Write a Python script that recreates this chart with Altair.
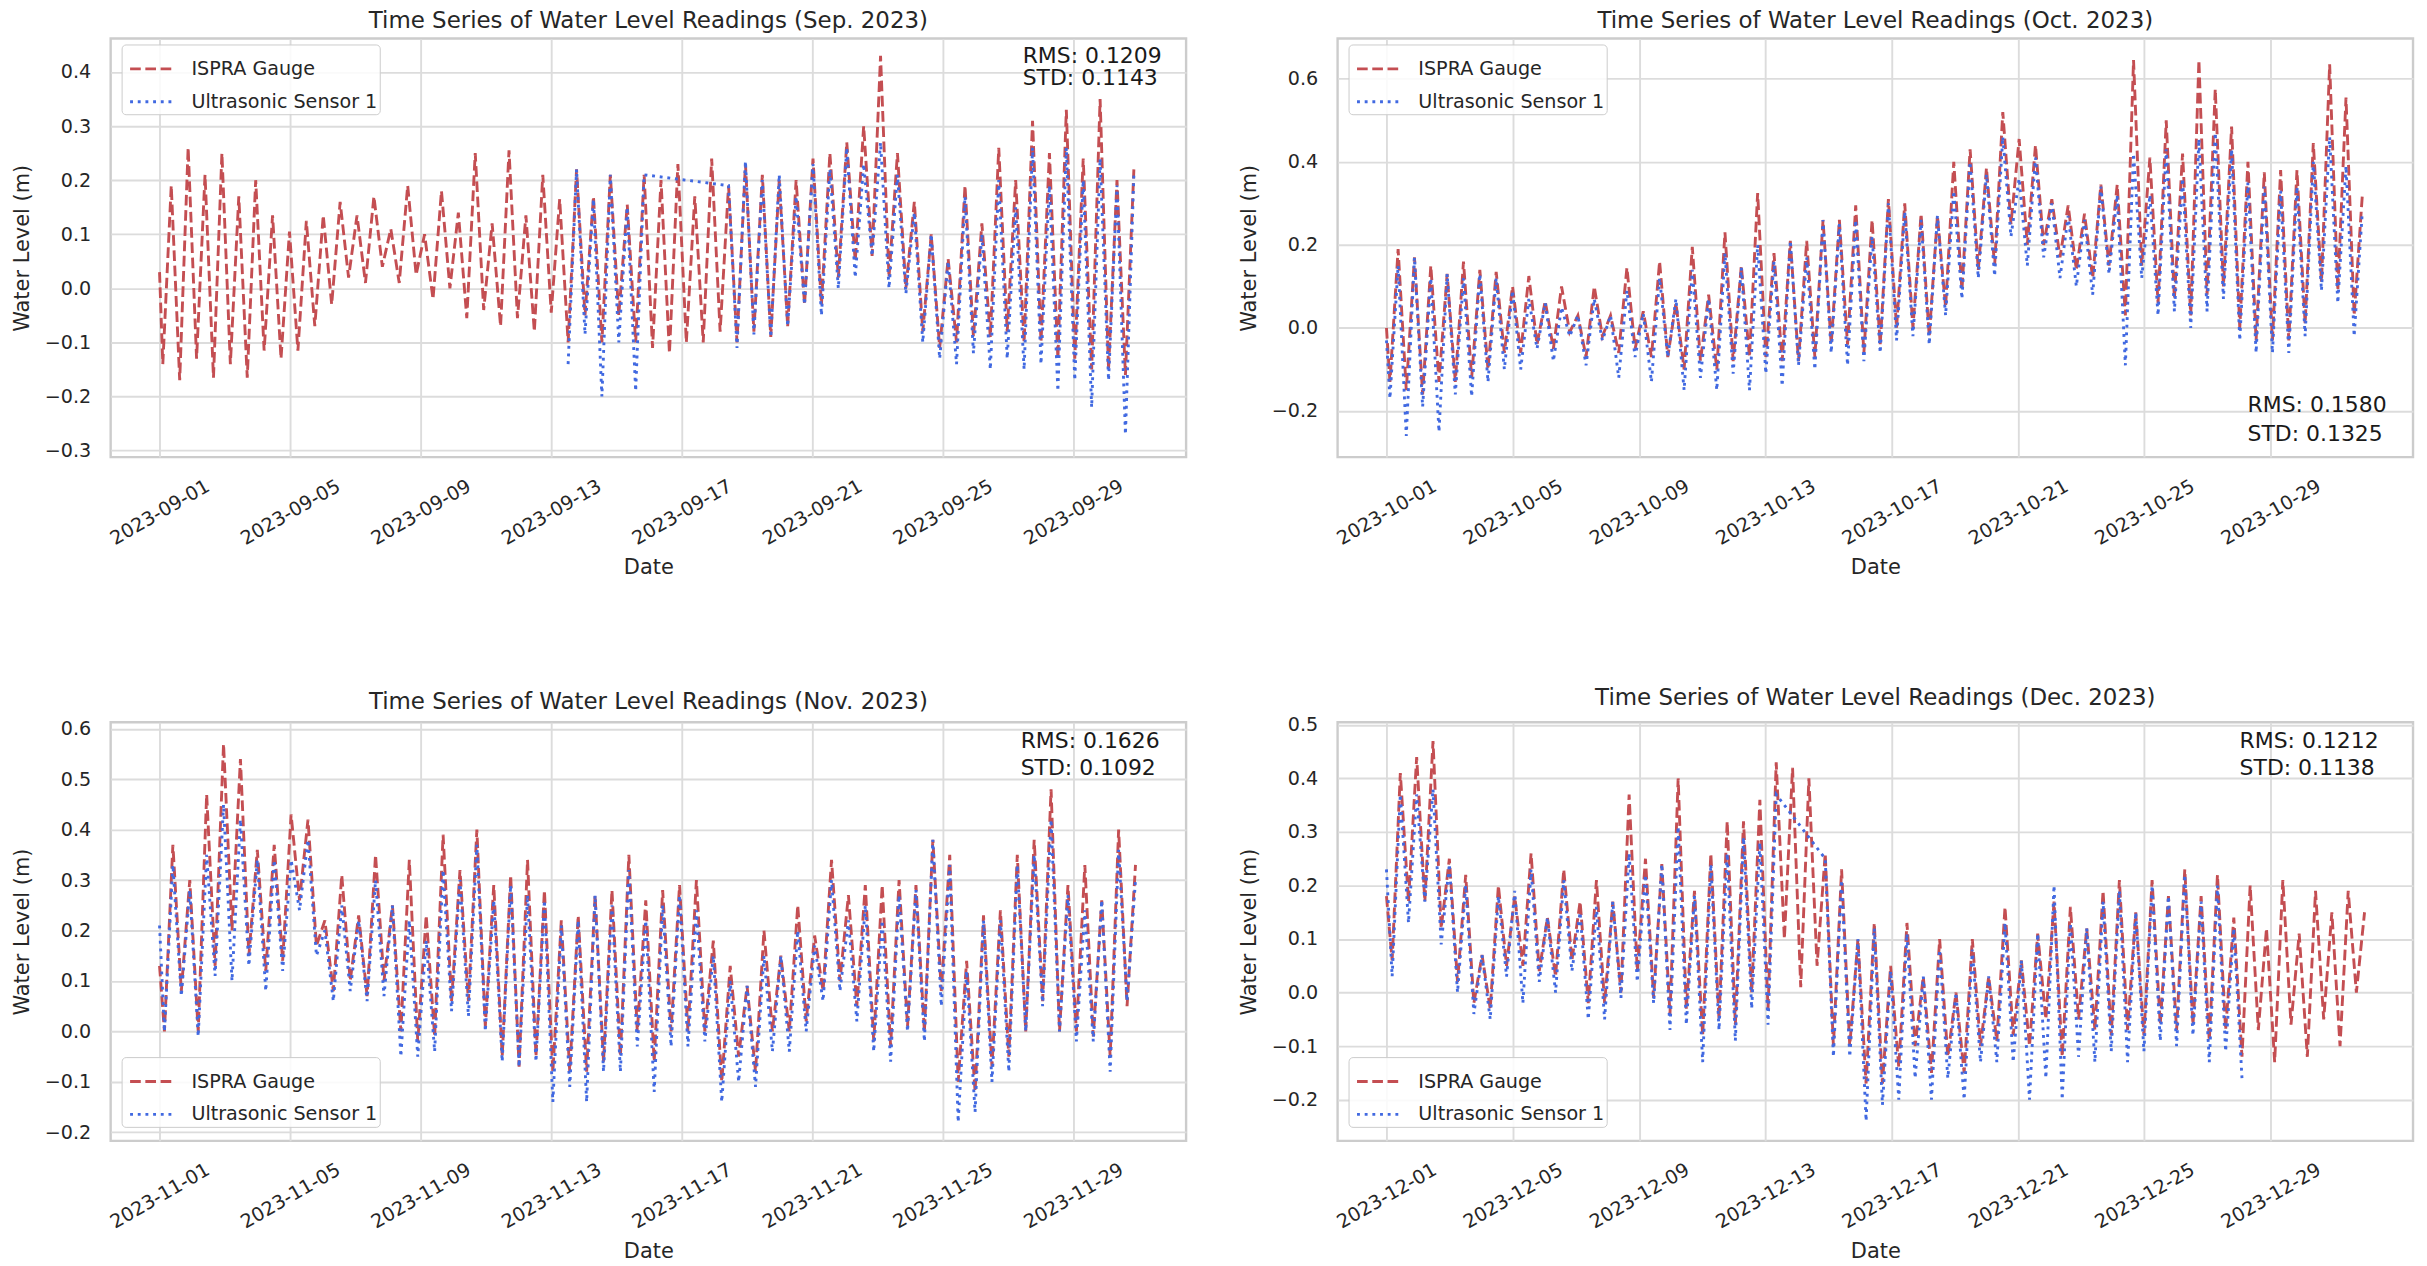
import altair as alt
import pandas as pd
from datetime import datetime, timedelta

FONT = "DejaVu Sans"
SERIES = ["ISPRA Gauge", "Ultrasonic Sensor 1"]
COLORS = ["#C44E52", "#4169E1"]
DASHES = [[10.7, 4.6], [2.9, 4.8]]

MONTH_TITLES = ["Sep. 2023", "Oct. 2023", "Nov. 2023", "Dec. 2023"]
MONTH_STARTS = [(2023, 9), (2023, 10), (2023, 11), (2023, 12)]
MONTH_DAYS = [30, 31, 30, 31]
FIRST_EXTREME_HOURS = [2.4, 2.64, 3.6, 4.32]
STEP_HOURS = 6.21
GAUGE_AT_START = [0.03, 0.00, 0.13, 0.18]
SENSOR_AT_START = [None, -0.03, 0.21, 0.23]

# successive low / high water readings (m)
SEP_GAUGE = [
    -0.14, 0.19, -0.17, 0.26, -0.13, 0.21, -0.165, 0.25, -0.14, 0.17,
    -0.165, 0.20, -0.115, 0.135, -0.13, 0.105, -0.115, 0.125, -0.07, 0.135,
    -0.03, 0.16, 0.02, 0.135, 0.01, 0.17, 0.04, 0.11, 0.01, 0.19,
    0.025, 0.10, -0.02, 0.18, 0.00, 0.14, -0.055, 0.25, -0.04, 0.12,
    -0.07, 0.255, -0.055, 0.135, -0.08, 0.21, -0.045, 0.165, -0.10, 0.22,
    -0.05, 0.17, -0.10, 0.21, -0.05, 0.155, -0.10, 0.21, -0.11, 0.20,
    -0.12, 0.23, -0.10, 0.17, -0.10, 0.24, -0.08, 0.19, -0.10, 0.23,
    -0.08, 0.21, -0.09, 0.20, -0.07, 0.20, -0.03, 0.24, -0.03, 0.25,
    0.02, 0.27, 0.05, 0.30, 0.06, 0.43, 0.02, 0.25, 0.00, 0.16,
    -0.08, 0.10, -0.11, 0.055, -0.10, 0.19, -0.09, 0.12, -0.09, 0.26,
    -0.08, 0.20, -0.10, 0.31, -0.10, 0.25, -0.13, 0.33, -0.13, 0.24,
    -0.15, 0.35, -0.15, 0.20, -0.16, 0.22,
]
SEP_SENSOR = [None] * 48 + [
    -0.14, 0.22, -0.085, 0.165, -0.20, 0.21, -0.10, 0.15, -0.19, 0.21,
] + [None] * 9 + [
    0.19, -0.11, 0.235, -0.085, 0.20, -0.09, 0.21, -0.07, 0.17, -0.03,
    0.23, -0.05, 0.22, 0.00, 0.26, 0.02, 0.23, 0.06, 0.27, 0.00,
    0.21, -0.01, 0.14, -0.10, 0.10, -0.13, 0.05, -0.14, 0.17, -0.12,
    0.10, -0.15, 0.20, -0.13, 0.15, -0.15, 0.26, -0.14, 0.19, -0.19,
    0.26, -0.17, 0.20, -0.22, 0.24, -0.17, 0.19, -0.27, 0.21,
]
OCT_GAUGE = [
    -0.13, 0.19, -0.15, 0.17, -0.16, 0.15, -0.13, 0.13, -0.13, 0.16,
    -0.12, 0.14, -0.10, 0.135, -0.06, 0.10, -0.06, 0.125, -0.04, 0.065,
    -0.05, 0.10, -0.01, 0.03, -0.07, 0.10, -0.02, 0.03, -0.06, 0.145,
    -0.05, 0.04, -0.07, 0.16, -0.07, 0.06, -0.10, 0.195, -0.08, 0.08,
    -0.10, 0.23, -0.08, 0.15, -0.07, 0.325, -0.07, 0.18, -0.08, 0.21,
    -0.08, 0.21, -0.07, 0.26, -0.04, 0.26, -0.04, 0.295, -0.06, 0.26,
    -0.04, 0.31, 0.00, 0.30, 0.00, 0.275, -0.02, 0.27, 0.05, 0.40,
    0.09, 0.43, 0.14, 0.385, 0.15, 0.52, 0.25, 0.455, 0.20, 0.44,
    0.20, 0.31, 0.17, 0.295, 0.14, 0.275, 0.12, 0.345, 0.15, 0.345,
    0.03, 0.645, 0.15, 0.41, 0.06, 0.50, 0.07, 0.42, 0.03, 0.645,
    0.08, 0.575, 0.10, 0.485, 0.00, 0.40, -0.03, 0.375, -0.03, 0.38,
    -0.03, 0.38, 0.01, 0.445, 0.11, 0.635, 0.09, 0.555, 0.03, 0.32,
]
OCT_SENSOR = [
    -0.17, 0.15, -0.26, 0.17, -0.19, 0.12, -0.25, 0.13, -0.16, 0.12,
    -0.165, 0.13, -0.13, 0.12, -0.10, 0.09, -0.10, 0.07, -0.05, 0.06,
    -0.08, 0.05, -0.02, 0.03, -0.09, 0.07, -0.03, 0.03, -0.12, 0.09,
    -0.07, 0.035, -0.13, 0.12, -0.07, 0.07, -0.15, 0.14, -0.12, 0.07,
    -0.15, 0.18, -0.11, 0.145, -0.15, 0.20, -0.11, 0.16, -0.14, 0.21,
    -0.09, 0.17, -0.10, 0.26, -0.06, 0.25, -0.09, 0.26, -0.08, 0.22,
    -0.06, 0.30, -0.03, 0.28, -0.02, 0.26, -0.04, 0.27, 0.03, 0.33,
    0.07, 0.40, 0.12, 0.37, 0.125, 0.46, 0.22, 0.36, 0.15, 0.41,
    0.17, 0.30, 0.12, 0.27, 0.10, 0.26, 0.08, 0.34, 0.13, 0.32,
    -0.09, 0.42, 0.12, 0.32, 0.03, 0.43, 0.04, 0.36, 0.00, 0.455,
    0.04, 0.47, 0.07, 0.43, -0.03, 0.35, -0.06, 0.34, -0.06, 0.33,
    -0.06, 0.34, -0.02, 0.40, 0.09, 0.46, 0.06, 0.39, -0.02, 0.28,
]
NOV_GAUGE = [
    0.00, 0.37, 0.08, 0.30, 0.00, 0.47, 0.13, 0.57, 0.20, 0.54,
    0.15, 0.36, 0.12, 0.37, 0.14, 0.43, 0.26, 0.42, 0.17, 0.22,
    0.08, 0.31, 0.10, 0.23, 0.07, 0.35, 0.10, 0.25, 0.00, 0.34,
    -0.02, 0.23, -0.01, 0.39, 0.06, 0.32, 0.06, 0.40, 0.01, 0.29,
    -0.05, 0.31, -0.07, 0.34, -0.05, 0.28, -0.08, 0.22, -0.08, 0.23,
    -0.08, 0.27, -0.06, 0.28, -0.05, 0.35, 0.00, 0.26, -0.06, 0.28,
    0.00, 0.29, 0.00, 0.30, 0.00, 0.18, -0.10, 0.13, -0.05, 0.09,
    -0.08, 0.20, 0.00, 0.15, 0.00, 0.25, 0.02, 0.19, 0.08, 0.34,
    0.10, 0.27, 0.05, 0.29, -0.02, 0.29, -0.03, 0.30, 0.01, 0.29,
    0.00, 0.38, 0.08, 0.35, -0.10, 0.14, -0.12, 0.23, -0.07, 0.24,
    -0.05, 0.35, 0.00, 0.38, 0.06, 0.48, 0.00, 0.29, 0.00, 0.33,
    -0.01, 0.26, -0.05, 0.40, 0.05, 0.33,
]
NOV_SENSOR = [
    0.00, 0.33, 0.07, 0.28, -0.01, 0.35, 0.11, 0.45, 0.10, 0.42,
    0.13, 0.34, 0.08, 0.34, 0.12, 0.34, 0.24, 0.38, 0.15, 0.20,
    0.06, 0.25, 0.08, 0.22, 0.06, 0.30, 0.07, 0.25, -0.05, 0.22,
    -0.05, 0.18, -0.04, 0.32, 0.04, 0.30, 0.03, 0.37, 0.00, 0.26,
    -0.06, 0.29, -0.07, 0.27, -0.06, 0.26, -0.14, 0.21, -0.11, 0.22,
    -0.14, 0.27, -0.08, 0.25, -0.08, 0.32, -0.03, 0.22, -0.12, 0.25,
    -0.03, 0.27, -0.03, 0.24, -0.02, 0.15, -0.14, 0.10, -0.10, 0.09,
    -0.11, 0.15, -0.04, 0.15, -0.04, 0.20, 0.00, 0.17, 0.06, 0.30,
    0.08, 0.22, 0.02, 0.25, -0.04, 0.22, -0.06, 0.27, 0.00, 0.28,
    -0.02, 0.38, 0.05, 0.33, -0.18, 0.12, -0.16, 0.22, -0.10, 0.22,
    -0.08, 0.33, 0.00, 0.35, 0.05, 0.42, 0.00, 0.27, -0.02, 0.24,
    -0.02, 0.26, -0.08, 0.36, 0.06, 0.30,
]
DEC_GAUGE = [
    0.06, 0.41, 0.17, 0.44, 0.17, 0.47, 0.12, 0.25, 0.02, 0.22,
    -0.02, 0.07, -0.03, 0.20, 0.05, 0.18, 0.05, 0.26, 0.04, 0.14,
    0.03, 0.23, 0.06, 0.17, -0.02, 0.21, -0.02, 0.17, 0.00, 0.37,
    0.04, 0.25, -0.01, 0.24, -0.04, 0.40, -0.03, 0.19, -0.08, 0.26,
    -0.05, 0.32, -0.06, 0.32, 0.00, 0.36, -0.03, 0.43, 0.10, 0.42,
    0.01, 0.40, 0.05, 0.26, -0.10, 0.23, -0.10, 0.10, -0.17, 0.13,
    -0.17, 0.05, -0.14, 0.13, -0.10, 0.03, -0.15, 0.10, -0.12, 0.00,
    -0.15, 0.10, -0.10, 0.03, -0.09, 0.16, -0.08, 0.06, -0.10, 0.11,
    -0.05, 0.17, -0.12, 0.16, -0.05, 0.12, -0.07, 0.19, -0.08, 0.21,
    -0.07, 0.15, -0.08, 0.21, -0.06, 0.18, -0.07, 0.23, -0.06, 0.18,
    -0.09, 0.22, -0.07, 0.14, -0.12, 0.20, -0.07, 0.12, -0.13, 0.21,
    -0.06, 0.11, -0.12, 0.19, -0.05, 0.15, -0.10, 0.19, 0.00, 0.15,
]
DEC_SENSOR = [
    0.03, 0.37, 0.13, 0.37, 0.17, 0.38, 0.09, 0.24, 0.00, 0.20,
    -0.04, 0.07, -0.05, 0.18, 0.03, 0.19, -0.02, 0.23, 0.02, 0.14,
    0.00, 0.21, 0.04, 0.15, -0.05, 0.16, -0.05, 0.17, -0.01, 0.26,
    0.02, 0.22, -0.02, 0.24, -0.07, 0.31, -0.06, 0.18, -0.13, 0.24,
    -0.07, 0.26, -0.09, 0.29, -0.03, 0.28, -0.06, 0.37,
] + [None] * 5 + [
    0.25, -0.12, 0.21, -0.12, 0.10, -0.24, 0.12, -0.21, 0.04,
    -0.20, 0.11, -0.16, 0.03, -0.20, 0.08, -0.16, 0.00, -0.20, 0.08,
    -0.13, 0.03, -0.13, 0.13, -0.13, 0.06, -0.20, 0.11, -0.16, 0.20,
    -0.20, 0.13, -0.12, 0.12, -0.13, 0.17, -0.11, 0.19, -0.13, 0.15,
    -0.11, 0.20, -0.09, 0.18, -0.10, 0.22, -0.08, 0.17, -0.13, 0.20,
    -0.11, 0.12, -0.16,
]

GAUGES = [SEP_GAUGE, OCT_GAUGE, NOV_GAUGE, DEC_GAUGE]
SENSORS = [SEP_SENSOR, OCT_SENSOR, NOV_SENSOR, DEC_SENSOR]

RMS_VALUES = ["0.1209", "0.1580", "0.1626", "0.1212"]
STD_VALUES = ["0.1143", "0.1325", "0.1092", "0.1138"]

Y_DOMAINS = [(-0.312, 0.462), (-0.311, 0.697), (-0.217, 0.613), (-0.277, 0.505)]
Y_TICKS = [
    [-0.3, -0.2, -0.1, 0.0, 0.1, 0.2, 0.3, 0.4],
    [-0.2, 0.0, 0.2, 0.4, 0.6],
    [-0.2, -0.1, 0.0, 0.1, 0.2, 0.3, 0.4, 0.5, 0.6],
    [-0.2, -0.1, 0.0, 0.1, 0.2, 0.3, 0.4, 0.5],
]
TICK_DAYS = [1, 5, 9, 13, 17, 21, 25, 29]

# layout (pixels)
W, H = 1079, 420
TEXT_X = [915, 913, 913, 905]
TEXT_Y = [(24.5, 46.5), (374.8, 404.2), (25.6, 52.5), (25.6, 53.3)]
LEGEND_Y = [6, 6, 336, 336]


def fmt(d):
    return d.strftime("%Y-%m-%dT%H:%M:%S")


def dt(d):
    return alt.DateTime(year=d.year, month=d.month, date=d.day,
                        hours=d.hour, minutes=d.minute, seconds=d.second)


def build_frame(i):
    y, m = MONTH_STARTS[i]
    base = datetime(y, m, 1)
    rows = []
    for name, start_val, vals in ((SERIES[0], GAUGE_AT_START[i], GAUGES[i]),
                                  (SERIES[1], SENSOR_AT_START[i], SENSORS[i])):
        if start_val is not None:
            rows.append({"time": fmt(base), "level": start_val, "series": name})
        for k, v in enumerate(vals):
            if v is None:
                continue
            t = base + timedelta(hours=FIRST_EXTREME_HOURS[i] + k * STEP_HOURS)
            rows.append({"time": fmt(t), "level": v, "series": name})
    return pd.DataFrame(rows)


def panel(i):
    y, m = MONTH_STARTS[i]
    base = datetime(y, m, 1)
    span = MONTH_DAYS[i] - 1 / 24
    pad = 0.05 * span
    lo = base - timedelta(days=pad)
    hi = base + timedelta(days=span + pad)
    legend = alt.Legend(
        title=None, orient="none", legendX=11, legendY=LEGEND_Y[i],
        fillColor="rgba(255,255,255,0.85)", strokeColor="#cccccc",
        cornerRadius=4, padding=2, rowPadding=0, symbolOffset=5,
        symbolType="stroke", symbolSize=1764, symbolStrokeWidth=2.9,
        labelFont=FONT, labelFontSize=19.2, labelColor="#262626", labelOffset=18,
        labelLimit=500,
    )
    df = build_frame(i)
    lines = alt.Chart(df).mark_line(strokeWidth=2.9, clip=True).encode(
        x=alt.X("time:T", title="Date",
                scale=alt.Scale(domain=[dt(lo), dt(hi)]),
                axis=alt.Axis(values=[alt.DateTime(year=y, month=m, date=d) for d in TICK_DAYS],
                              format="%Y-%m-%d")),
        y=alt.Y("level:Q", title="Water Level (m)",
                scale=alt.Scale(domain=list(Y_DOMAINS[i]), nice=False, zero=False),
                axis=alt.Axis(values=Y_TICKS[i], format=".1f")),
        color=alt.Color("series:N", title=None,
                        scale=alt.Scale(domain=SERIES, range=COLORS), legend=legend),
        strokeDash=alt.StrokeDash("series:N", title=None,
                                  scale=alt.Scale(domain=SERIES, range=DASHES), legend=legend),
    )
    rms = alt.Chart(pd.DataFrame({"label": ["RMS: " + RMS_VALUES[i]]})).mark_text(
        align="left", baseline="alphabetic", font=FONT, fontSize=22, color="#1a1a1a"
    ).encode(x=alt.value(TEXT_X[i]), y=alt.value(TEXT_Y[i][0]), text="label:N")
    std = alt.Chart(pd.DataFrame({"label": ["STD: " + STD_VALUES[i]]})).mark_text(
        align="left", baseline="alphabetic", font=FONT, fontSize=22, color="#1a1a1a"
    ).encode(x=alt.value(TEXT_X[i]), y=alt.value(TEXT_Y[i][1]), text="label:N")
    return alt.layer(lines, rms, std).properties(
        width=W, height=H,
        title=alt.TitleParams("Time Series of Water Level Readings (" + MONTH_TITLES[i] + ")"),
    )


chart = alt.concat(
    *[panel(i) for i in range(4)],
    columns=2, spacing={"row": 266, "column": 152}, bounds="flush",
).resolve_scale(
    color="independent", strokeDash="independent"
).properties(
    padding={"left": 2, "top": -2.5, "right": 4, "bottom": 2}
).configure_view(
    stroke="#cccccc", strokeWidth=2.4
).configure_axis(
    grid=True, gridColor="#dcdcdc", gridWidth=1.9, domain=False, ticks=False, tickSize=0,
    labelFont=FONT, labelFontSize=19.2, labelColor="#262626",
    titleFont=FONT, titleFontSize=21, titleColor="#262626", titleFontWeight="normal",
).configure_axisX(
    labelAngle=-30, labelAlign="center", labelBaseline="middle", labelPadding=55,
    titlePadding=8, labelOverlap=False, labelFlush=False,
).configure_axisY(
    labelPadding=20, titlePadding=12,
).configure_title(
    font=FONT, fontSize=23, fontWeight="normal", color="#262626", offset=6,
    baseline="alphabetic", anchor="middle",
)

chart.save("out.html", embed_options={"renderer": "svg", "actions": False})
